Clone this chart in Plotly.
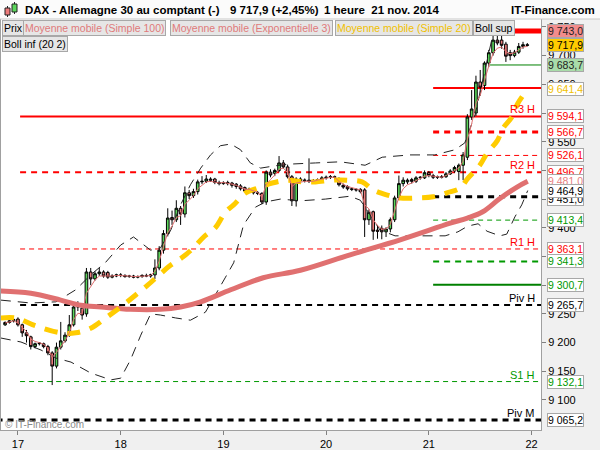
import plotly.graph_objects as go
from datetime import datetime, timedelta

START = datetime(2014, 11, 16, 21, 0)  # first hourly candle

# ---------------- hourly candles (DAX, 1 heure) ----------------
open_ = [9231, 9235, 9238, 9241, 9231, 9217, 9210, 9193, 9198, 9198,
         9193, 9182, 9159, 9192, 9203, 9213, 9231, 9268, 9260, 9250,
         9323, 9311, 9320, 9323, 9322, 9314, 9316, 9318, 9317, 9315,
         9316, 9314, 9315, 9317, 9316, 9318, 9330, 9361, 9390, 9418,
         9414, 9434, 9424, 9461, 9456, 9463, 9480, 9481, 9485, 9485,
         9479, 9477, 9479, 9478, 9476, 9473, 9470, 9466, 9467, 9461,
         9460, 9445, 9497, 9495, 9500, 9513, 9506, 9489, 9447, 9485,
         9482, 9483, 9481, 9482, 9484, 9487, 9488, 9489, 9485, 9474,
         9472, 9468, 9467, 9467, 9466, 9414, 9428, 9396, 9399, 9393,
         9398, 9414, 9452, 9477, 9480, 9484, 9481, 9487, 9487, 9496,
         9491, 9488, 9489, 9489, 9494, 9499, 9498, 9509, 9523, 9593,
         9600, 9654, 9648, 9687, 9705, 9727, 9727, 9720, 9705, 9700,
         9706, 9716, 9719]
high = [9237, 9240, 9242, 9244, 9233, 9222, 9212, 9200, 9201, 9200,
        9196, 9185, 9200, 9236, 9218, 9248, 9269, 9272, 9263, 9330,
        9330, 9324, 9330, 9326, 9325, 9319, 9320, 9321, 9319, 9318,
        9318, 9317, 9319, 9320, 9320, 9345, 9368, 9396, 9434, 9430,
        9448, 9438, 9472, 9466, 9468, 9484, 9490, 9492, 9488, 9487,
        9482, 9481, 9482, 9480, 9478, 9476, 9472, 9470, 9469, 9464,
        9462, 9500, 9502, 9503, 9525, 9518, 9510, 9492, 9488, 9488,
        9486, 9521, 9485, 9486, 9490, 9491, 9492, 9491, 9488, 9477,
        9474, 9470, 9469, 9469, 9469, 9432, 9430, 9405, 9404, 9401,
        9418, 9456, 9491, 9488, 9486, 9487, 9490, 9490, 9500, 9499,
        9494, 9491, 9492, 9497, 9502, 9508, 9512, 9532, 9598, 9640,
        9665, 9675, 9690, 9710, 9739, 9735, 9738, 9724, 9710, 9710,
        9722, 9724, 9722]
low = [9229, 9233, 9235, 9228, 9210, 9200, 9188, 9190, 9195, 9190,
       9178, 9126, 9155, 9188, 9200, 9210, 9228, 9255, 9240, 9245,
       9300, 9308, 9316, 9313, 9311, 9312, 9314, 9314, 9313, 9313,
       9312, 9312, 9313, 9314, 9313, 9311, 9326, 9355, 9385, 9405,
       9410, 9405, 9418, 9450, 9452, 9458, 9476, 9478, 9480, 9476,
       9474, 9475, 9474, 9470, 9468, 9465, 9462, 9463, 9458, 9457,
       9441, 9440, 9488, 9490, 9497, 9503, 9486, 9438, 9437, 9479,
       9479, 9478, 9478, 9480, 9482, 9484, 9485, 9484, 9472, 9468,
       9465, 9464, 9463, 9460, 9384, 9405, 9379, 9381, 9380, 9384,
       9392, 9410, 9448, 9472, 9476, 9477, 9478, 9484, 9485, 9488,
       9485, 9485, 9486, 9487, 9492, 9496, 9483, 9483, 9518, 9588,
       9595, 9630, 9640, 9680, 9700, 9718, 9712, 9689, 9692, 9697,
       9703, 9712, 9716]
close = [9235, 9238, 9240, 9231, 9217, 9212, 9193, 9198, 9199, 9193,
         9182, 9159, 9192, 9203, 9213, 9231, 9262, 9262, 9248, 9323,
         9311, 9320, 9323, 9316, 9314, 9316, 9318, 9317, 9315, 9316,
         9314, 9315, 9317, 9316, 9318, 9330, 9361, 9390, 9417, 9414,
         9434, 9424, 9461, 9456, 9463, 9480, 9481, 9485, 9483, 9479,
         9477, 9479, 9477, 9474, 9472, 9468, 9464, 9467, 9461, 9460,
         9445, 9497, 9492, 9500, 9513, 9506, 9489, 9447, 9485, 9482,
         9483, 9481, 9482, 9484, 9487, 9488, 9489, 9488, 9475, 9471,
         9468, 9467, 9466, 9463, 9414, 9427, 9394, 9394, 9393, 9398,
         9414, 9452, 9477, 9483, 9483, 9481, 9487, 9488, 9496, 9491,
         9488, 9489, 9488, 9494, 9499, 9505, 9509, 9527, 9593, 9607,
         9654, 9645, 9687, 9705, 9727, 9722, 9718, 9699, 9700, 9706,
         9716, 9719, 9717.9]

# Moyenne mobile (Exponentielle 3), one value per candle
ema3 = [9234, 9236, 9238, 9234, 9226, 9219, 9206, 9202, 9200, 9197,
        9190, 9174, 9183, 9193, 9203, 9217, 9240, 9251, 9250, 9286,
        9298, 9309, 9316, 9316, 9315, 9316, 9317, 9317, 9316, 9316,
        9315, 9315, 9316, 9316, 9317, 9324, 9342, 9366, 9392, 9403,
        9418, 9421, 9441, 9448, 9456, 9468, 9474, 9480, 9481, 9480,
        9478, 9479, 9478, 9476, 9474, 9471, 9467, 9467, 9464, 9462,
        9453, 9475, 9484, 9492, 9502, 9504, 9496, 9472, 9478, 9480,
        9481, 9481, 9481, 9483, 9485, 9486, 9488, 9488, 9481, 9476,
        9472, 9470, 9468, 9466, 9440, 9433, 9414, 9404, 9398, 9398,
        9406, 9429, 9453, 9468, 9475, 9478, 9482, 9485, 9490, 9491,
        9490, 9489, 9488, 9491, 9495, 9500, 9504, 9516, 9554, 9581,
        9617, 9631, 9659, 9682, 9704, 9713, 9715, 9707, 9703, 9705,
        9710, 9715, 9716]

# Moyenne mobile (Simple 100) - (hour index, value)
sma100_h = [-1, 6, 13, 17.7, 22.4, 29.3, 36.3, 41, 45.7, 52.7, 60.3, 69,
            80.6, 92.3, 104, 108, 111.6, 115.6, 119.6, 122.1]
sma100_v = [9290, 9286, 9274, 9265, 9262, 9258, 9258, 9262, 9271, 9292,
            9313, 9326, 9353, 9379, 9408, 9417, 9428, 9451, 9471, 9481]

# Moyenne mobile (Simple 20)
sma20_h = [-1, 2.5, 7.2, 13, 16.5, 20, 23.5, 27, 30.5, 33.3, 36.3, 38.7,
           41.5, 44, 46.4, 49.2, 51.5, 53.4, 56.2, 59, 62.4, 66, 69.4,
           72.5, 76.4, 80, 83.4, 86, 89.3, 92.3, 96.2, 100, 103.2, 106.3,
           108.1, 110.9, 112.6, 115, 116.3, 118.4, 119.8, 122.1]
sma20_v = [9243, 9243, 9229, 9217, 9217, 9225, 9243, 9262, 9283, 9300,
           9320, 9335, 9349, 9365, 9384, 9401, 9428, 9440, 9461, 9469,
           9478, 9483, 9480, 9480, 9483, 9483, 9480, 9466, 9457, 9452,
           9452, 9454, 9461, 9469, 9486, 9509, 9530, 9552, 9573, 9593,
           9617, 9641.4]

# Bandes de Bollinger (20 2)
boll_sup_h = [-1, 6, 11.9, 16.5, 20, 23.5, 27, 30, 34, 36.3, 38.7, 41,
              43.3, 45.7, 48, 50.3, 52.7, 55, 57.3, 59.7, 63.1, 66.6, 72.5,
              78.3, 84.1, 88.1, 94.6, 100.4, 105.1, 107.4, 109.8, 112.1,
              114.4, 116.8, 122.6]
boll_sup_v = [9274, 9269, 9271, 9292, 9318, 9340, 9370, 9384, 9361, 9365,
              9396, 9440, 9475, 9504, 9527, 9543, 9546, 9536, 9513, 9504,
              9508, 9511, 9513, 9515, 9509, 9523, 9527, 9527, 9536, 9548,
              9597, 9675, 9753, 9832, 9920]
boll_inf_h = [-1, 3.7, 8.4, 11.9, 15.4, 20, 24.7, 27, 29.3, 31.7, 34, 36.3,
              39.8, 43.3, 46.8, 49.2, 51.5, 53.4, 55.7, 58.5, 60.8, 64.3, 69,
              74.8, 80.6, 83, 85.3, 87.6, 91.1, 96.9, 102.8, 105.8, 108.1,
              110.5, 112.6, 115.6, 117.2, 119.1, 120.7, 122.1]
boll_inf_v = [9208, 9201, 9187, 9173, 9166, 9147, 9135, 9138, 9170, 9213,
              9250, 9248, 9243, 9239, 9253, 9283, 9314, 9339, 9405, 9436,
              9445, 9450, 9447, 9450, 9455, 9448, 9422, 9396, 9386, 9386,
              9386, 9393, 9403, 9407, 9394, 9386, 9389, 9419, 9440, 9464.9]

# Niveaux (pivots etc.)
level_price = [9743.0, 9683.7, 9643.5, 9594.1, 9566.7, 9526.1, 9496.7, 9454.0,
               9413.4, 9363.1, 9341.3, 9300.7, 9265.7, 9132.1, 9065.2]
level_start = [100, 113.3, 100, 3.5, 100, 100, 3.5, 100,
               100, 3.5, 100, 100, 3.5, 3.5, -2]
level_names = ["", "", "", "R3 H", "", "", "R2 H", "", "", "R1 H", "", "",
               "Piv H", "S1 H", "Piv M"]

# Etiquettes de droite
label_vals = [9743.0, 9717.9, 9683.7, 9641.4, 9594.1, 9566.7, 9526.1, 9496.7,
              9481.0, 9451.0, 9464.9, 9413.4, 9363.1, 9341.3, 9300.7, 9265.7,
              9132.1, 9065.2]

tick_vals = [9100, 9150, 9200, 9250, 9300, 9350, 9400, 9450, 9500, 9550,
             9600, 9650, 9700, 9750]
tick_text = ["9 100", "9 150", "9 200", "9 250", "9 300", "9 350", "9 400",
             "9 450", "9 500", "9 550", "9 600", "9 650", "9 700", "9 750"]
day_hours = [3, 27, 51, 75, 99, 123]
day_text = ["17", "18", "19", "20", "21", "22"]

# ---------------- styles / geometry ----------------
W, H = 600, 450
ML, MR, MT, MB = 1, 59, 19, 20
PW, PH = W - ML - MR, H - MT - MB
FONT = "Liberation Sans, Arial, sans-serif"
RED, GREEN, DKGREEN = "#ff0000", "#009900", "#008000"
UPC, DNC = "#5cd65c", "#ec7b7b"
SMA100C, SMA20C = "#e07070", "#ffcc00"


def t(h):
    return START + timedelta(hours=h)


def px(xp):
    return (xp - ML) / PW


def py(yp):
    return (H - MB - yp) / PH


times = [t(i) for i in range(len(close))]

fig = go.Figure()

fig.add_trace(go.Scatter(x=[t(h) for h in boll_sup_h], y=boll_sup_v, mode="lines",
                         line=dict(color="#222", width=1, dash="10px,7px"),
                         hoverinfo="skip"))
fig.add_trace(go.Scatter(x=[t(h) for h in boll_inf_h], y=boll_inf_v, mode="lines",
                         line=dict(color="#222", width=1, dash="10px,7px"),
                         hoverinfo="skip"))
fig.add_trace(go.Scatter(x=[t(h) for h in sma100_h], y=sma100_v, mode="lines",
                         line=dict(color=SMA100C, width=5, shape="spline"),
                         hoverinfo="skip"))
fig.add_trace(go.Scatter(x=[t(h) for h in sma20_h], y=sma20_v, mode="lines",
                         line=dict(color=SMA20C, width=5, dash="13px,10px",
                                   shape="spline"),
                         hoverinfo="skip"))
fig.add_trace(go.Candlestick(
    x=times, open=open_, high=high, low=low, close=close,
    increasing=dict(fillcolor=UPC, line=dict(color="#000", width=1)),
    decreasing=dict(fillcolor=DNC, line=dict(color="#000", width=1)),
    whiskerwidth=0, hoverinfo="skip"))
fig.add_trace(go.Scatter(x=times, y=ema3, mode="lines",
                         line=dict(color="#e07070", width=1), hoverinfo="skip"))

# level lines
level_style = [
    (RED, 5, "solid"), (DKGREEN, 1, "solid"), (RED, 2, "solid"),
    (RED, 2, "solid"), (RED, 3, "6px,5px"), (RED, 1, "5px,4px"),
    (RED, 2, "6px,5px"), ("#000", 3, "6px,5px"), (GREEN, 1, "5px,4px"),
    (RED, 1, "5px,4px"), (GREEN, 2, "6px,5px"), (DKGREEN, 2, "solid"),
    ("#000", 2, "6px,5px"), (GREEN, 1, "5px,4px"), ("#000", 3, "6px,5px"),
]
shapes = []
for v, s, (c, w, d) in zip(level_price, level_start, level_style):
    shapes.append(dict(type="line", xref="x", yref="y", x0=t(s), x1=t(127),
                       y0=v, y1=v, layer="below",
                       line=dict(color=c, width=w, dash=d)))

# header background
shapes.append(dict(type="rect", xref="paper", yref="paper", x0=px(-2), x1=px(602),
                   y0=py(19), y1=py(-2), fillcolor="#fbfbfb",
                   line=dict(width=0), layer="above"))
shapes.append(dict(type="line", xref="paper", yref="paper", x0=px(-2), x1=px(602),
                   y0=py(19), y1=py(19), line=dict(color="#c8c8c8", width=1),
                   layer="above"))
# little candlestick icon
shapes += [
    dict(type="line", xref="paper", yref="paper", x0=px(7.5), x1=px(7.5),
         y0=py(17), y1=py(6), line=dict(color="#222", width=1), layer="above"),
    dict(type="rect", xref="paper", yref="paper", x0=px(5), x1=px(10),
         y0=py(15), y1=py(8), fillcolor=DNC, line=dict(color="#222", width=1),
         layer="above"),
    dict(type="line", xref="paper", yref="paper", x0=px(14.5), x1=px(14.5),
         y0=py(14), y1=py(2), line=dict(color="#222", width=1), layer="above"),
    dict(type="rect", xref="paper", yref="paper", x0=px(12), x1=px(17),
         y0=py(12), y1=py(4), fillcolor=UPC, line=dict(color="#222", width=1),
         layer="above"),
]

ann = []


def txt(x, y, text, size=11, color="#000", xanchor="left", yanchor="middle",
        bold=False, **kw):
    ann.append(dict(xref="paper", yref="paper", x=px(x), y=py(y),
                    text=("<b>%s</b>" % text) if bold else text, showarrow=False,
                    xanchor=xanchor, yanchor=yanchor,
                    font=dict(family=FONT, size=size, color=color), **kw))


txt(23, 10, "DAX - Allemagne 30 au comptant (-)", size=11.5, bold=True)
txt(228, 10, "9 717,9 (+2,45%)", size=11.5, bold=True)
txt(322, 10, "1 heure  21 nov. 2014", size=11.5, bold=True)
txt(597, 10, "IT-Finance.com", size=11.5, bold=True, xanchor="right")

# legend tabs
tab_kw = dict(bgcolor="#e6e6e6", bordercolor="#a8a8a8", borderwidth=1, borderpad=1)
TS = 10.5
txt(2, 20, "Prix", size=TS, yanchor="top", **tab_kw)
txt(23, 20, "Moyenne mobile (Simple 100)", size=TS, color="#e07a7a", yanchor="top", **tab_kw)
txt(170, 20, "Moyenne mobile (Exponentielle 3)", size=TS, color="#e07a7a", yanchor="top", **tab_kw)
txt(335, 20, "Moyenne mobile (Simple 20)", size=TS, color="#f0c000", yanchor="top", **tab_kw)
txt(473, 20, "Boll sup", size=TS, yanchor="top", **tab_kw)
txt(2, 36, "Boll inf (20 2)", size=TS, yanchor="top", **tab_kw)

txt(3, 424, "© IT-Finance.com", size=10, color="#8a8a8a")

# level names inside the plot
name_colors = {"R3 H": RED, "R2 H": RED, "R1 H": RED, "Piv H": "#000",
               "S1 H": GREEN, "Piv M": "#000"}
for v, n in zip(level_price, level_names):
    if n:
        ann.append(dict(xref="paper", yref="y", x=px(537), y=v, text=n,
                        showarrow=False, xanchor="right", yanchor="bottom",
                        yshift=-1, font=dict(family=FONT, size=11,
                                            color=name_colors[n])))

# right-hand value labels
label_style = {
    9743.0: ("#f28c8c", "#222"), 9717.9: ("#ffcc00", "#000"),
    9683.7: ("#a9dca9", "#222"), 9641.4: ("#ffffff", "#f0c000"),
    9594.1: ("#ffffff", RED), 9566.7: ("#ffffff", RED), 9526.1: ("#ffffff", RED),
    9496.7: ("#ffffff", RED), 9481.0: ("#ffffff", "#e88080"),
    9451.0: ("#ffffff", "#000"), 9464.9: ("#ffffff", "#000"),
    9413.4: ("#ffffff", GREEN), 9363.1: ("#ffffff", RED),
    9341.3: ("#ffffff", GREEN), 9300.7: ("#ffffff", GREEN),
    9265.7: ("#ffffff", "#000"), 9132.1: ("#ffffff", GREEN),
    9065.2: ("#ffffff", "#000"),
}
for v in label_vals:
    bg, fc = label_style[v]
    s = "{:,.1f}".format(v).replace(",", " ").replace(".", ",")
    ann.append(dict(xref="paper", yref="y", x=px(547), y=v, text=s,
                    showarrow=False, xanchor="left", yanchor="middle",
                    bgcolor=bg, bordercolor="#a8a8a8", borderwidth=1,
                    borderpad=0,
                    font=dict(family=FONT, size=10.5, color=fc)))

fig.update_layout(
    width=W, height=H, margin=dict(l=ML, r=MR, t=MT, b=MB),
    paper_bgcolor="#f0f0f0", plot_bgcolor="#ffffff",
    showlegend=False, boxgap=0.12, hovermode=False,
    shapes=shapes, annotations=ann,
    font=dict(family=FONT, size=11, color="#000"),
    xaxis=dict(type="date", range=[t(-0.96), t(125.2)], rangeslider=dict(visible=False),
               tickvals=[t(h) for h in day_hours], ticktext=day_text,
               ticks="outside", ticklen=4, tickcolor="#808080",
               showgrid=False, zeroline=False, showline=True, linecolor="#a0a0a0",
               mirror=True, tickfont=dict(size=11, color="#000")),
    yaxis=dict(range=[9047.7, 9763.8], side="right", tickvals=tick_vals,
               ticktext=tick_text, ticks="outside", ticklen=4, tickcolor="#808080",
               showgrid=False, zeroline=False, showline=True, linecolor="#a0a0a0",
               mirror=True, tickfont=dict(size=11, color="#000")),
)

fig.write_html("out.html",
               config={"displayModeBar": False, "staticPlot": True},
               post_script="document.body.style.margin='0px';"
                           "document.body.style.overflow='hidden';")
